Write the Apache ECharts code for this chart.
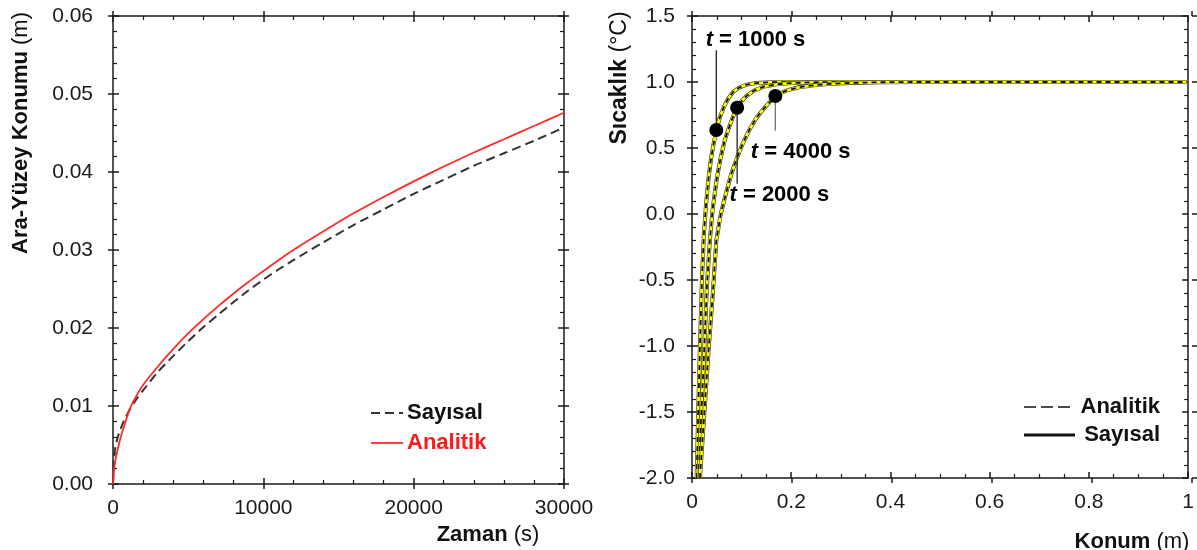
<!DOCTYPE html>
<html>
<head>
<meta charset="utf-8">
<title>Ara-Yüzey Konumu ve Sıcaklık</title>
<script src="https://cdn.jsdelivr.net/npm/echarts@6/dist/echarts.min.js"></script>
<style>
html, body { margin: 0; padding: 0; background: #fff; }
#chart { width: 1197px; height: 550px; }
</style>
</head>
<body>
<div id="chart"></div>
<script>
// sol grafik: ara-yuzey konumu (m) - zaman (s)
var analitikZaman = [0, 130, 470, 800, 1130, 1500, 2000, 3000, 4000, 5000, 6000, 7000, 8000, 9000, 10000, 11000, 12000, 14000, 16000, 18000, 20000, 22000, 24000, 26000, 28000, 30000];
var analitikKonum = [0, 0.0027, 0.0057, 0.0078, 0.0097, 0.0111, 0.0127, 0.0151, 0.0173, 0.0193, 0.0211, 0.0228, 0.0244, 0.0259, 0.0273, 0.0287, 0.0300, 0.0324, 0.0347, 0.0368, 0.0388, 0.0407, 0.0425, 0.0442, 0.0459, 0.0476];
var sayisalZaman = [0, 60, 150, 350, 700, 1100, 1500, 2000, 3000, 4000, 5000, 6000, 7000, 8000, 9000, 10000, 11000, 12000, 14000, 16000, 18000, 20000, 22000, 24000, 26000, 28000, 30000];
var sayisalKonum = [0, 0.0030, 0.0047, 0.0062, 0.0080, 0.0095, 0.0107, 0.0120, 0.0144, 0.0164, 0.0183, 0.0201, 0.0217, 0.0233, 0.0248, 0.0262, 0.0275, 0.0287, 0.0310, 0.0332, 0.0352, 0.0372, 0.0390, 0.0408, 0.0424, 0.0440, 0.0457];

// sag grafik: sicaklik (C) - konum (m), t = 1000, 2000, 4000 s
var konum1000 = [0.0095, 0.0125, 0.0160, 0.0200, 0.0240, 0.0285, 0.0330, 0.0380, 0.0430, 0.0490, 0.0560, 0.0640, 0.0730, 0.0830, 0.0950, 0.110, 0.130, 0.160, 0.200, 0.5, 1.0];
var sicaklik1000 = [-2.0, -1.5, -1.0, -0.5, -0.15, 0.08, 0.26, 0.41, 0.52, 0.636, 0.73, 0.81, 0.875, 0.925, 0.958, 0.98, 0.992, 0.998, 1.0, 1.0, 1.0];
var konum2000 = [0.013, 0.019, 0.025, 0.030, 0.036, 0.042, 0.050, 0.058, 0.066, 0.075, 0.083, 0.091, 0.100, 0.110, 0.125, 0.145, 0.170, 0.200, 0.25, 0.30, 0.5, 1.0];
var sicaklik2000 = [-2.0, -1.5, -1.0, -0.55, -0.2, 0.05, 0.27, 0.43, 0.56, 0.66, 0.74, 0.805, 0.855, 0.895, 0.935, 0.965, 0.982, 0.992, 0.998, 1.0, 1.0, 1.0];
var konum4000 = [0.016, 0.025, 0.034, 0.042, 0.049, 0.058, 0.068, 0.079, 0.090, 0.103, 0.116, 0.130, 0.145, 0.168, 0.190, 0.215, 0.245, 0.28, 0.32, 0.38, 0.45, 0.5, 1.0];
var sicaklik4000 = [-2.0, -1.5, -1.0, -0.6, -0.2, 0.0, 0.15, 0.30, 0.42, 0.54, 0.64, 0.73, 0.80, 0.894, 0.935, 0.96, 0.975, 0.986, 0.993, 0.998, 1.0, 1.0, 1.0];

// isaretli noktalar ve etiketler
var noktaKonum = [0.049, 0.091, 0.168];
var noktaSicaklik = [0.636, 0.805, 0.894];
var cizgiUc = [1.24, 0.23, 0.63];
var etiketler = ['1000', '2000', '4000'];
var etiketKonum = [0.128, 0.176, 0.219];
var etiketSicaklik = [1.318, 0.144, 0.472];

function zip(xs, ys) {
  return xs.map(function (x, i) { return [x, ys[i]]; });
}

var ink = '#1a1a1a';
var font = 'Arial, "Liberation Sans", Helvetica, sans-serif';

function axis(grid, pos, min, max, interval, minorSplit, extra) {
  return Object.assign({
    type: 'value', gridIndex: grid, position: pos,
    min: min, max: max, interval: interval,
    axisLine: { show: true, onZero: false, lineStyle: { color: ink, width: 1.5 } },
    axisTick: { show: true, inside: true, length: 6, lineStyle: { color: ink, width: 1.5 } },
    minorTick: { show: true, splitNumber: minorSplit, length: 4, lineStyle: { color: ink, width: 1.2 } },
    axisLabel: { show: false },
    splitLine: { show: false }
  }, extra || {});
}

// kutunun disina tasan ana tik parcasi
function outer(grid, pos, min, max, interval) {
  return {
    type: 'value', gridIndex: grid, position: pos,
    min: min, max: max, interval: interval,
    axisLine: { show: false, onZero: false },
    axisTick: { show: true, inside: false, length: 5, lineStyle: { color: ink, width: 1.5 } },
    minorTick: { show: false },
    axisLabel: { show: false },
    splitLine: { show: false }
  };
}

function lbl(margin, fmt) {
  return { axisLabel: { show: true, margin: margin, fontSize: 21, color: ink, fontFamily: font, formatter: fmt } };
}

var dom = document.getElementById('chart');
var myChart = echarts.init(dom, null, { renderer: 'canvas' });

var option = {
  animation: false,
  backgroundColor: '#fff',
  grid: [
    { left: 113, top: 16, width: 451, height: 468 },
    { left: 692, top: 16, width: 500, height: 462 },
    { left: 113, top: 16, width: 451, height: 468 },
    { left: 692, top: 16, width: 500, height: 462 }
  ],
  xAxis: [
    axis(0, 'bottom', 0, 30000, 10000, 5, lbl(14, function (v) { return String(v); })),
    axis(1, 'bottom', 0, 1, 0.2, 4, lbl(14, function (v) { return String(v); })),
    axis(0, 'top', 0, 30000, 10000, 5),
    axis(1, 'top', 0, 1, 0.2, 4),
    outer(2, 'bottom', 0, 30000, 10000),
    outer(2, 'top', 0, 30000, 10000),
    outer(3, 'bottom', 0, 1, 0.2),
    outer(3, 'top', 0, 1, 0.2)
  ],
  yAxis: [
    axis(0, 'left', 0, 0.06, 0.01, 5, lbl(20, function (v) { return v.toFixed(2); })),
    axis(1, 'left', -2, 1.5, 0.5, 5, lbl(17, function (v) { return v.toFixed(1); })),
    axis(0, 'right', 0, 0.06, 0.01, 5),
    axis(1, 'right', -2, 1.5, 0.5, 5),
    outer(2, 'left', 0, 0.06, 0.01),
    outer(2, 'right', 0, 0.06, 0.01),
    outer(3, 'left', -2, 1.5, 0.5),
    outer(3, 'right', -2, 1.5, 0.5)
  ],
  series: [],
  graphic: []
};

// sol grafik serileri
option.series.push({
  name: 'Sayısal', type: 'line', xAxisIndex: 0, yAxisIndex: 0, showSymbol: false, smooth: 0.25,
  data: zip(sayisalZaman, sayisalKonum),
  lineStyle: { color: '#333', width: 2, type: [9, 5] }
});
option.series.push({
  name: 'Analitik', type: 'line', xAxisIndex: 0, yAxisIndex: 0, showSymbol: false, smooth: 0.25,
  data: zip(analitikZaman, analitikKonum),
  lineStyle: { color: '#ff2a2a', width: 1.8 }
});

// sag grafik serileri
var egriler = [zip(konum1000, sicaklik1000), zip(konum2000, sicaklik2000), zip(konum4000, sicaklik4000)];
egriler.forEach(function (d) {
  option.series.push({
    type: 'line', xAxisIndex: 1, yAxisIndex: 1, showSymbol: false, clip: true,
    data: d, lineStyle: { color: '#333', width: 4 }
  });
  option.series.push({
    type: 'line', xAxisIndex: 1, yAxisIndex: 1, showSymbol: false, clip: true,
    data: d, lineStyle: { color: '#ffff00', width: 2.8 }
  });
  option.series.push({
    type: 'line', xAxisIndex: 1, yAxisIndex: 1, showSymbol: false, clip: true,
    data: d, lineStyle: { color: '#111', width: 1.8, type: [5, 4] }
  });
});

// etiket cizgileri
noktaKonum.forEach(function (x, i) {
  option.series.push({
    type: 'line', xAxisIndex: 1, yAxisIndex: 1, showSymbol: false,
    data: [[x, noktaSicaklik[i]], [x, cizgiUc[i]]],
    lineStyle: { color: i === 2 ? '#777' : '#222', width: 1.3 }
  });
});

option.series.push({
  type: 'scatter', xAxisIndex: 1, yAxisIndex: 1, symbolSize: 14, z: 5,
  itemStyle: { color: '#000', opacity: 1 },
  data: zip(noktaKonum, noktaSicaklik)
});

option.series.push({
  type: 'scatter', xAxisIndex: 1, yAxisIndex: 1, symbolSize: 0, z: 5,
  itemStyle: { opacity: 1 },
  data: zip(etiketKonum, etiketSicaklik),
  label: {
    show: true, position: 'inside', color: '#000', opacity: 1, fontFamily: font,
    formatter: function (p) { return '{i|t}{b| = ' + etiketler[p.dataIndex] + ' s}'; },
    rich: {
      i: { fontSize: 22, fontWeight: 'bold', fontStyle: 'italic', color: '#000', fontFamily: font },
      b: { fontSize: 22, fontWeight: 'bold', color: '#000', fontFamily: font }
    }
  }
});

// eksen basliklari
function title(x, y, rot, size, bold, normal) {
  return {
    type: 'text', x: x, y: y, rotation: rot,
    style: {
      text: '{b|' + bold + '}{n|' + normal + '}',
      align: 'center', verticalAlign: 'middle',
      rich: {
        b: { fontSize: size, fontWeight: 'bold', fill: '#111', fontFamily: font },
        n: { fontSize: size, fill: '#111', fontFamily: font }
      }
    }
  };
}
option.graphic.push(title(21, 133, Math.PI / 2, 22, 'Ara-Yüzey Konumu ', '(m)'));
option.graphic.push(title(488, 535, 0, 22, 'Zaman ', '(s)'));
option.graphic.push(title(620, 78, Math.PI / 2, 23, 'Sıcaklık ', '(°C)'));
option.graphic.push(title(1132, 542, 0, 22, 'Konum ', '(m)'));

// gosterge (legend) - sol
option.graphic.push({ type: 'line', shape: { x1: 371, y1: 413, x2: 403, y2: 413 }, style: { stroke: '#333', lineWidth: 2, lineDash: [9, 5] } });
option.graphic.push({ type: 'text', x: 407, y: 413, style: { text: 'Sayısal', fill: '#111', font: 'bold 22px ' + font, verticalAlign: 'middle' } });
option.graphic.push({ type: 'line', shape: { x1: 371, y1: 443, x2: 403, y2: 443 }, style: { stroke: '#ff2a2a', lineWidth: 1.8 } });
option.graphic.push({ type: 'text', x: 407, y: 443, style: { text: 'Analitik', fill: '#ff1a1a', font: 'bold 22px ' + font, verticalAlign: 'middle' } });

// gosterge - sag
option.graphic.push({ type: 'line', shape: { x1: 1024, y1: 407, x2: 1075, y2: 407 }, style: { stroke: '#111', lineWidth: 1.3, lineDash: [12, 5] } });
option.graphic.push({ type: 'text', x: 1160, y: 407, style: { text: 'Analitik', fill: '#111', font: 'bold 22px ' + font, align: 'right', verticalAlign: 'middle' } });
option.graphic.push({ type: 'line', shape: { x1: 1024, y1: 435, x2: 1075, y2: 435 }, style: { stroke: '#111', lineWidth: 3 } });
option.graphic.push({ type: 'text', x: 1160, y: 435, style: { text: 'Sayısal', fill: '#111', font: 'bold 22px ' + font, align: 'right', verticalAlign: 'middle' } });

if (option && typeof option === 'object') {
  myChart.setOption(option, true);
}
</script>
</body>
</html>
